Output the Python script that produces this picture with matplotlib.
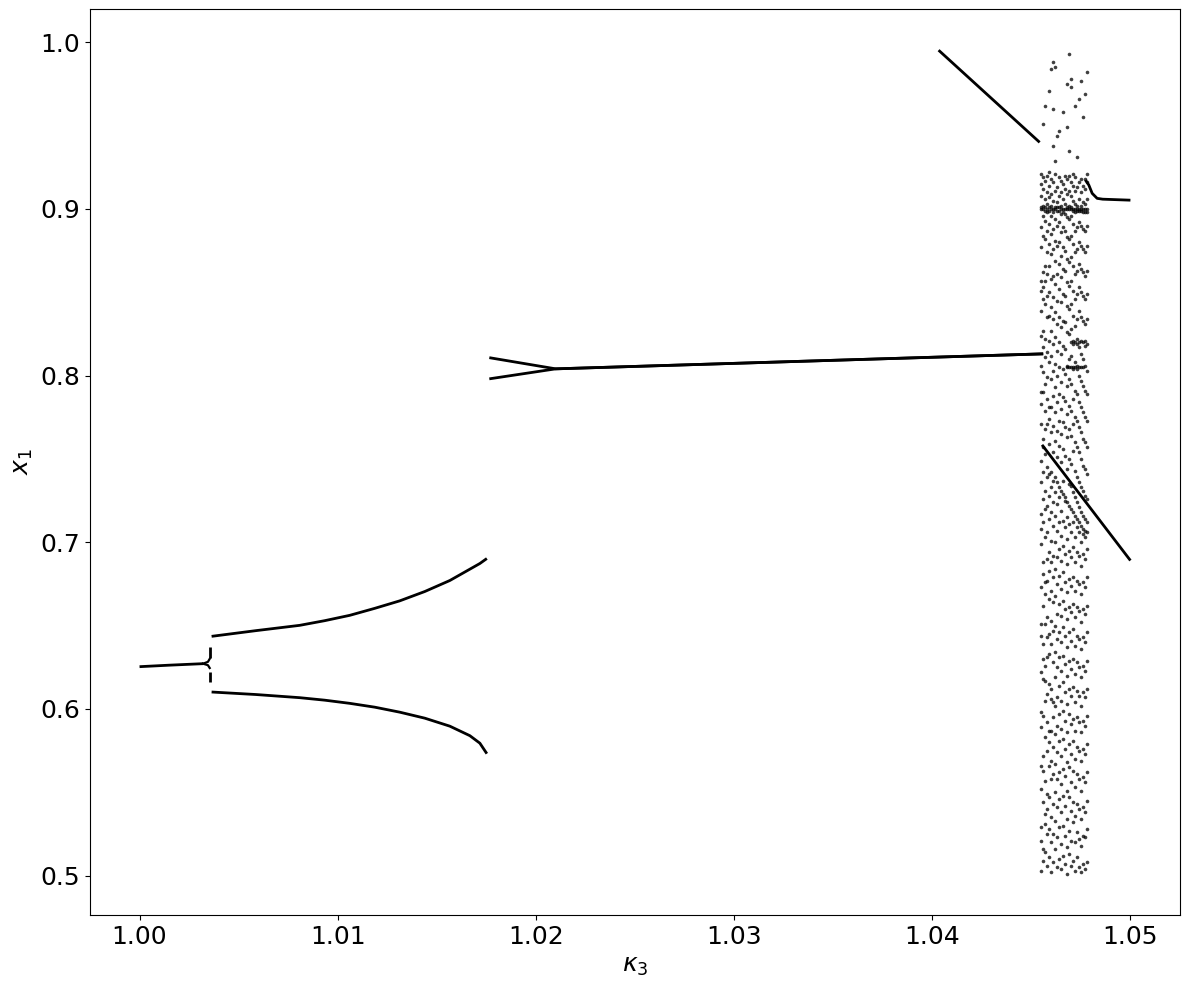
import matplotlib.pyplot as plt

# period-1 branch before the first split
k_p1 = [1.0000, 1.0015, 1.0032]
x_p1 = [0.6253, 0.6262, 0.6271]

# small fork and the two dashed pieces at kappa ~ 1.00354
k_fork = [1.0032, 1.00345, 1.00354]
x_fork_up = [0.6271, 0.6282, 0.6300]
x_fork_dn = [0.6271, 0.6262, 0.6245]
k_dash = 1.00354
x_dash_up = [0.6373, 0.6307]
x_dash_dn = [0.6223, 0.6163]

# period-2 branches
k_p2 = [1.003636, 1.005859, 1.008081, 1.009343, 1.010606, 1.011869,
        1.013131, 1.014394, 1.015657, 1.016667, 1.017172, 1.017525]
x_p2_up = [0.6435, 0.6469, 0.6501, 0.6529, 0.6561, 0.6603,
           0.6648, 0.6704, 0.6770, 0.6838, 0.6872, 0.6902]
x_p2_dn = [0.6101, 0.6086, 0.6067, 0.6052, 0.6033, 0.6010,
           0.5980, 0.5944, 0.5896, 0.5839, 0.5794, 0.5731]

# branch near 0.8 (short fork then one line)
k_mid = [1.01765, 1.0210, 1.0456]
x_mid_up = [0.8107, 0.8040, 0.8130]
x_mid_dn = [0.7980, 0.8040, 0.8130]

# upper falling line
k_top = [1.04032, 1.04542]
x_top = [0.9952, 0.9399]

# falling line through the chaotic band
k_fall = [1.04554, 1.0500]
x_fall = [0.7584, 0.6890]

# right segment near 0.905
k_right = [1.04773, 1.04790, 1.04807, 1.04832, 1.04860, 1.0500]
x_right = [0.9173, 0.9143, 0.9093, 0.9063, 0.9058, 0.9052]

# chaotic band, one list of x1 values per kappa column
chaos_k = [1.0455, 1.0456, 1.0457, 1.0458, 1.0459, 1.0460, 1.0461, 1.0462,
           1.0463, 1.0464, 1.0465, 1.0466, 1.0467, 1.0468, 1.0469, 1.0470,
           1.0471, 1.0472, 1.0473, 1.0474, 1.0475, 1.0476, 1.0477, 1.0478]
chaos_x = [
    [0.503, 0.521, 0.529, 0.552, 0.566, 0.589, 0.598, 0.622, 0.644, 0.651, 0.673, 0.699, 0.708, 0.717, 0.736,
     0.749, 0.771, 0.783, 0.790, 0.806, 0.824, 0.839, 0.851, 0.857, 0.877, 0.889, 0.900, 0.901, 0.908, 0.915, 0.921],
    [0.509, 0.516, 0.544, 0.563, 0.572, 0.596, 0.618, 0.630, 0.639, 0.662, 0.681, 0.688, 0.712, 0.726, 0.742,
     0.757, 0.762, 0.790, 0.802, 0.817, 0.827, 0.846, 0.853, 0.862, 0.884, 0.896, 0.900, 0.902, 0.912, 0.919, 0.951],
    [0.514, 0.531, 0.537, 0.557, 0.583, 0.605, 0.617, 0.626, 0.651, 0.669, 0.676, 0.703, 0.720, 0.731, 0.753,
     0.768, 0.779, 0.795, 0.811, 0.822, 0.843, 0.857, 0.866, 0.882, 0.893, 0.899, 0.901, 0.906, 0.917, 0.962],
    [0.506, 0.525, 0.540, 0.549, 0.575, 0.592, 0.609, 0.631, 0.643, 0.655, 0.677, 0.690, 0.706, 0.722, 0.739,
     0.745, 0.771, 0.786, 0.799, 0.814, 0.835, 0.848, 0.861, 0.874, 0.887, 0.898, 0.900, 0.903, 0.910, 0.920],
    [0.511, 0.528, 0.547, 0.566, 0.580, 0.587, 0.615, 0.633, 0.645, 0.666, 0.683, 0.694, 0.714, 0.728, 0.741,
     0.759, 0.774, 0.781, 0.808, 0.821, 0.836, 0.850, 0.866, 0.879, 0.891, 0.899, 0.901, 0.907, 0.914, 0.922, 0.971],
    [0.502, 0.520, 0.535, 0.558, 0.569, 0.587, 0.606, 0.612, 0.639, 0.653, 0.671, 0.688, 0.701, 0.718, 0.733,
     0.742, 0.766, 0.781, 0.798, 0.812, 0.827, 0.841, 0.858, 0.873, 0.885, 0.896, 0.900, 0.902, 0.909, 0.918, 0.984],
    [0.508, 0.525, 0.543, 0.561, 0.577, 0.595, 0.604, 0.628, 0.647, 0.664, 0.679, 0.692, 0.710, 0.724, 0.737,
     0.754, 0.770, 0.788, 0.803, 0.819, 0.834, 0.847, 0.860, 0.876, 0.888, 0.898, 0.900, 0.905, 0.916, 0.938, 0.960, 0.988],
    [0.516, 0.533, 0.550, 0.567, 0.585, 0.602, 0.619, 0.634, 0.650, 0.668, 0.684, 0.700, 0.716, 0.730, 0.739,
     0.761, 0.778, 0.793, 0.807, 0.823, 0.838, 0.855, 0.869, 0.881, 0.894, 0.900, 0.901, 0.911, 0.921, 0.929, 0.985],
    [0.505, 0.523, 0.541, 0.558, 0.574, 0.590, 0.607, 0.625, 0.642, 0.657, 0.675, 0.691, 0.707, 0.723, 0.736,
     0.751, 0.767, 0.784, 0.800, 0.815, 0.831, 0.845, 0.861, 0.878, 0.890, 0.899, 0.901, 0.904, 0.913, 0.944],
    [0.510, 0.529, 0.546, 0.562, 0.581, 0.597, 0.614, 0.631, 0.646, 0.663, 0.680, 0.696, 0.712, 0.727, 0.733,
     0.758, 0.773, 0.789, 0.805, 0.820, 0.835, 0.852, 0.867, 0.880, 0.892, 0.899, 0.901, 0.908, 0.919, 0.947],
    [0.504, 0.519, 0.538, 0.555, 0.572, 0.588, 0.605, 0.623, 0.640, 0.656, 0.672, 0.689, 0.704, 0.719, 0.731,
     0.748, 0.765, 0.780, 0.796, 0.813, 0.829, 0.844, 0.859, 0.872, 0.886, 0.897, 0.900, 0.902, 0.910, 0.917],
    [0.512, 0.530, 0.548, 0.564, 0.582, 0.599, 0.616, 0.632, 0.649, 0.665, 0.682, 0.698, 0.713, 0.729, 0.737,
     0.756, 0.772, 0.787, 0.804, 0.818, 0.833, 0.849, 0.864, 0.877, 0.889, 0.898, 0.900, 0.906, 0.915, 0.958],
    [0.507, 0.524, 0.542, 0.560, 0.576, 0.593, 0.610, 0.627, 0.644, 0.660, 0.676, 0.693, 0.709, 0.725, 0.727,
     0.752, 0.769, 0.785, 0.801, 0.816, 0.832, 0.848, 0.863, 0.875, 0.887, 0.897, 0.900, 0.903, 0.912, 0.920],
    [0.501, 0.517, 0.534, 0.551, 0.568, 0.586, 0.603, 0.620, 0.637, 0.654, 0.670, 0.687, 0.702, 0.715, 0.724,
     0.744, 0.763, 0.777, 0.794, 0.805, 0.806, 0.826, 0.842, 0.856, 0.870, 0.883, 0.895, 0.900, 0.901, 0.909,
     0.918, 0.949, 0.975],
    [0.513, 0.527, 0.547, 0.565, 0.579, 0.597, 0.612, 0.629, 0.646, 0.661, 0.678, 0.695, 0.711, 0.722, 0.735,
     0.750, 0.768, 0.782, 0.798, 0.805, 0.810, 0.825, 0.840, 0.854, 0.868, 0.882, 0.894, 0.900, 0.902, 0.911,
     0.920, 0.935, 0.993],
    [0.506, 0.521, 0.539, 0.556, 0.573, 0.591, 0.608, 0.624, 0.641, 0.658, 0.674, 0.691, 0.706, 0.720, 0.734,
     0.747, 0.764, 0.779, 0.795, 0.805, 0.812, 0.820, 0.828, 0.843, 0.857, 0.871, 0.884, 0.896, 0.900, 0.901,
     0.908, 0.916, 0.973, 0.978],
    [0.509, 0.532, 0.544, 0.563, 0.581, 0.594, 0.613, 0.630, 0.648, 0.663, 0.679, 0.697, 0.712, 0.718, 0.730,
     0.755, 0.771, 0.786, 0.804, 0.805, 0.819, 0.821, 0.836, 0.851, 0.866, 0.879, 0.891, 0.899, 0.900, 0.905,
     0.914, 0.921],
    [0.503, 0.520, 0.536, 0.553, 0.570, 0.587, 0.604, 0.621, 0.638, 0.655, 0.671, 0.688, 0.703, 0.716, 0.727,
     0.743, 0.760, 0.775, 0.791, 0.805, 0.808, 0.820, 0.830, 0.846, 0.861, 0.874, 0.887, 0.898, 0.900, 0.903,
     0.911, 0.919, 0.962],
    [0.511, 0.526, 0.543, 0.561, 0.577, 0.595, 0.611, 0.628, 0.644, 0.661, 0.677, 0.694, 0.709, 0.714, 0.724,
     0.739, 0.757, 0.773, 0.789, 0.804, 0.806, 0.819, 0.822, 0.834, 0.849, 0.863, 0.876, 0.889, 0.899, 0.900,
     0.902, 0.913, 0.931],
    [0.505, 0.522, 0.540, 0.558, 0.575, 0.592, 0.608, 0.625, 0.642, 0.659, 0.675, 0.692, 0.706, 0.712, 0.721,
     0.736, 0.754, 0.769, 0.784, 0.800, 0.805, 0.817, 0.820, 0.839, 0.853, 0.867, 0.880, 0.892, 0.899, 0.900,
     0.906, 0.916, 0.966],
    [0.502, 0.518, 0.534, 0.551, 0.569, 0.586, 0.602, 0.619, 0.636, 0.652, 0.669, 0.686, 0.700, 0.710, 0.718,
     0.733, 0.750, 0.766, 0.781, 0.797, 0.805, 0.813, 0.821, 0.835, 0.850, 0.864, 0.878, 0.890, 0.899, 0.900,
     0.902, 0.910, 0.918, 0.977],
    [0.507, 0.524, 0.541, 0.559, 0.576, 0.593, 0.610, 0.626, 0.643, 0.660, 0.676, 0.693, 0.705, 0.708, 0.716,
     0.731, 0.746, 0.762, 0.778, 0.794, 0.805, 0.810, 0.820, 0.833, 0.848, 0.862, 0.876, 0.888, 0.898, 0.900,
     0.904, 0.914, 0.955],
    [0.504, 0.523, 0.538, 0.556, 0.573, 0.590, 0.607, 0.623, 0.640, 0.657, 0.673, 0.690, 0.703, 0.707, 0.714,
     0.728, 0.744, 0.760, 0.775, 0.791, 0.806, 0.818, 0.821, 0.831, 0.846, 0.860, 0.874, 0.887, 0.898, 0.900,
     0.903, 0.912, 0.918, 0.969],
    [0.508, 0.528, 0.545, 0.562, 0.579, 0.596, 0.612, 0.629, 0.646, 0.662, 0.679, 0.696, 0.706, 0.712, 0.726,
     0.741, 0.757, 0.773, 0.789, 0.803, 0.819, 0.834, 0.849, 0.863, 0.878, 0.890, 0.898, 0.900, 0.906, 0.916,
     0.921, 0.982],
]

fig = plt.figure(figsize=(11.89, 9.89), dpi=100)
ax = fig.add_axes([0.0757, 0.0748, 0.9167, 0.9161])

line_kw = dict(color='k', linewidth=2.0, solid_capstyle='butt')
ax.plot(k_p1, x_p1, **line_kw)
ax.plot(k_fork, x_fork_up, color='k', linewidth=1.6)
ax.plot(k_fork, x_fork_dn, color='k', linewidth=1.6)
ax.plot([k_dash, k_dash], x_dash_up, **line_kw)
ax.plot([k_dash, k_dash], x_dash_dn, **line_kw)
ax.plot(k_p2, x_p2_up, **line_kw)
ax.plot(k_p2, x_p2_dn, **line_kw)
ax.plot(k_mid, x_mid_up, **line_kw)
ax.plot(k_mid, x_mid_dn, **line_kw)
ax.plot(k_top, x_top, **line_kw)
ax.plot(k_fall, x_fall, **line_kw)
ax.plot(k_right, x_right, **line_kw)

# scattered points of the chaotic band
for k, xs in zip(chaos_k, chaos_x):
    ax.plot([k] * len(xs), xs, 'o', color='k', markersize=2.6,
            markeredgewidth=0, alpha=0.75)

ax.set_xlabel(r'$\kappa_3$', fontsize=18)
ax.set_ylabel(r'$x_1$', fontsize=18)
ax.tick_params(labelsize=18)

plt.savefig('out.png')
